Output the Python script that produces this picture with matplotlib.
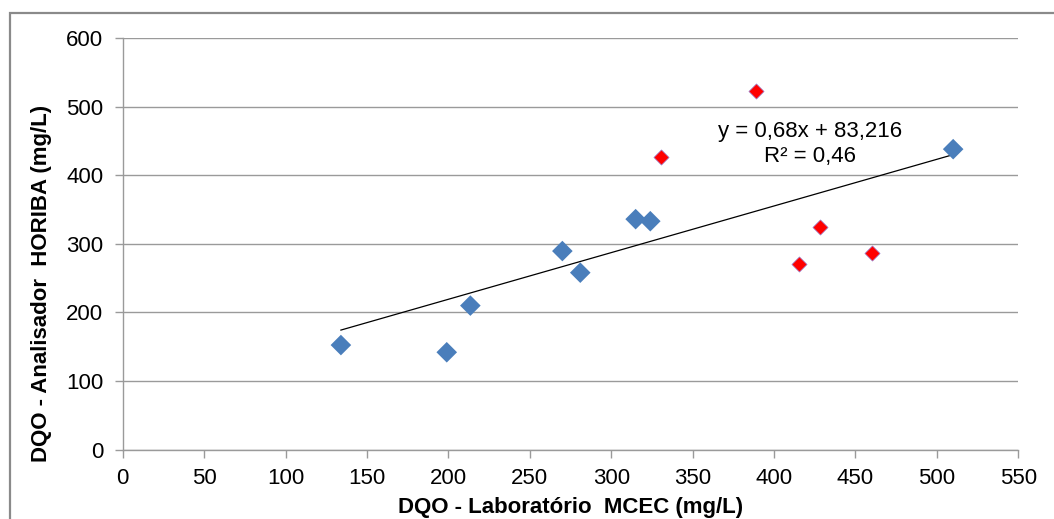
import matplotlib
matplotlib.use("Agg")
import matplotlib.pyplot as plt
from matplotlib.patches import Rectangle

plt.rcParams['font.family'] = ['Liberation Sans', 'DejaVu Sans']

# Data (mg/L)
lab_blue = [134, 199, 213.5, 270, 281, 315, 324, 510]
horiba_blue = [152.5, 142, 210, 289.5, 258, 336, 333, 438]
lab_red = [389, 330.5, 428, 415.5, 460]
horiba_red = [523, 427, 324.5, 270.5, 287]
slope, intercept = 0.68, 83.216
eq_line1 = "y = 0,68x + 83,216"
eq_line2 = "R² = 0,46"
x_ticks = list(range(0, 551, 50))
y_ticks = list(range(0, 601, 100))

W, H = 1054, 519
fig = plt.figure(figsize=(W / 100, H / 100), dpi=100)
fig.patch.set_facecolor('white')

# outer chart border
fig.patches.append(Rectangle((10 / W, -0.1), 1.2, (H - 13) / H + 0.1,
                             transform=fig.transFigure, fill=False,
                             edgecolor='#8a8a8a', linewidth=1.6))

left, right, top, bottom = 122.7, 1018.3, 38, 449.7
ax = fig.add_axes([left / W, 1 - bottom / H, (right - left) / W, (bottom - top) / H])
ax.set_xlim(0, 550)
ax.set_ylim(0, 600)
ax.set_xticks(x_ticks)
ax.set_yticks(y_ticks)

fs = 16
gcol = '#9a9a9a'
ax.grid(axis='y', color=gcol, linewidth=1.0)
ax.set_axisbelow(True)
for s in ['top', 'right']:
    ax.spines[s].set_visible(False)
for s in ['left', 'bottom']:
    ax.spines[s].set_color(gcol)
    ax.spines[s].set_linewidth(1.0)
ax.tick_params(axis='both', colors=gcol, labelcolor='#000000', labelsize=fs,
               length=6, width=1.0)
ax.tick_params(axis='y', pad=8)
ax.tick_params(axis='x', pad=7)

# trend line over blue range
xs = [min(lab_blue), max(lab_blue)]
ax.plot(xs, [slope * v + intercept for v in xs], color='#000000', linewidth=0.9, zorder=3)

ax.scatter(lab_blue, horiba_blue, marker='D', s=110, color='#4a7ebb',
           edgecolors='none', zorder=4)
ax.scatter(lab_red, horiba_red, marker='D', s=60, color='#ff0000',
           edgecolors='#9a8ad8', linewidths=0.5, zorder=4)

fig.text(810 / W, 1 - 131.5 / H, eq_line1, fontsize=fs, ha='center', va='center')
fig.text(810 / W, 1 - 156.5 / H, eq_line2, fontsize=fs, ha='center', va='center')

fig.text(571 / W, 1 - 508 / H, "DQO - Laboratório  MCEC (mg/L)", fontsize=fs,
         fontweight='bold', ha='center', va='center')
fig.text(42 / W, 1 - 283 / H, "DQO - Analisador  HORIBA (mg/L)", fontsize=fs,
         fontweight='bold', ha='center', va='center', rotation=90)

fig.savefig('out.png', dpi=100)
